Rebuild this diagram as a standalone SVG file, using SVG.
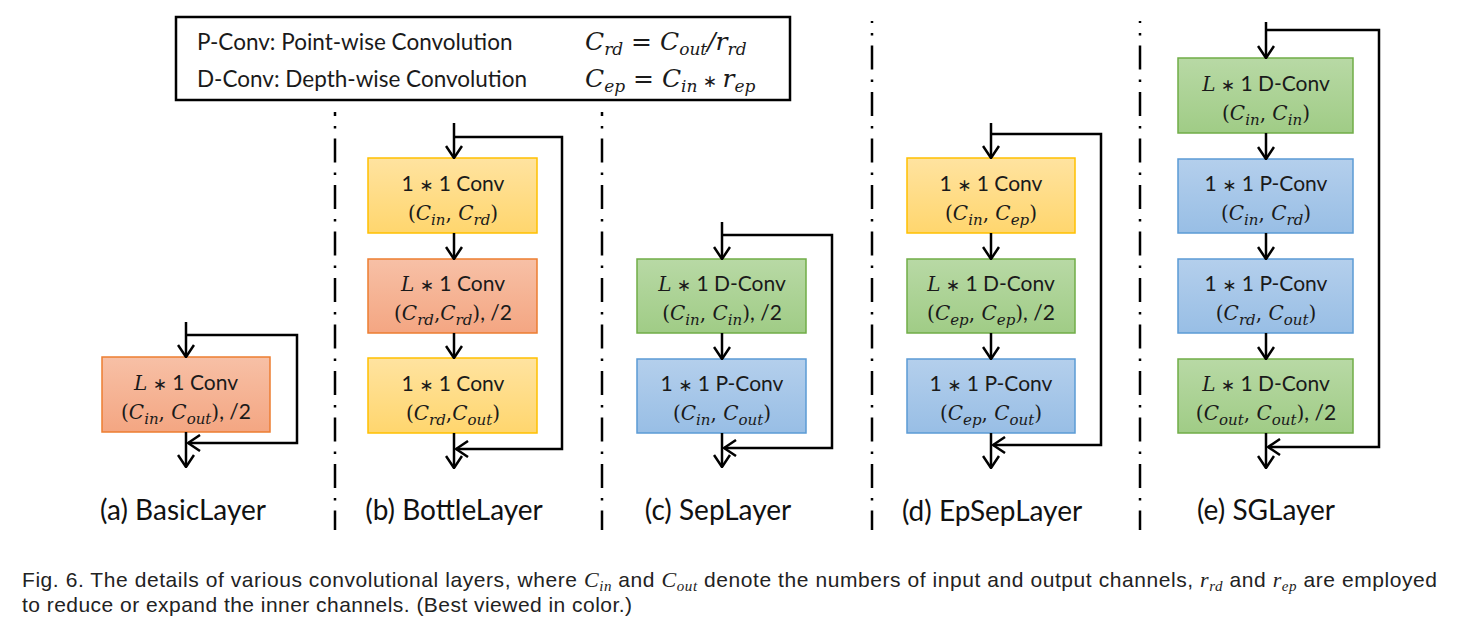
<svg xmlns="http://www.w3.org/2000/svg" width="1464" height="624" viewBox="0 0 1464 624">
<style>
.t{font-family:Lato,"Liberation Sans",sans-serif;font-size:21px;fill:#1a1a1a}
.lg{font-size:22.5px}
.m{font-family:"DejaVu Serif",serif;font-style:italic;font-size:20px}
.u{font-family:"DejaVu Serif",serif;font-size:20px}
.s{font-family:"DejaVu Serif",serif;font-style:italic;font-size:15px}
.ast{font-family:"DejaVu Sans",sans-serif;font-size:17px}
.lm{font-size:25px}
.ls{font-size:17px}
.lab{font-family:Lato,"Liberation Sans",sans-serif;font-size:28px;fill:#111}
.cap{font-family:"Liberation Sans",Arial,sans-serif;font-size:21px;fill:#222}
.cm{font-family:"Liberation Serif",serif;font-style:italic;font-size:22px}
.cs{font-family:"Liberation Serif",serif;font-style:italic;font-size:15px}
.red{fill:url(#gRed);stroke:#ED7D31;stroke-width:1.5}
.yel{fill:url(#gYel);stroke:#FFC000;stroke-width:1.5}
.grn{fill:url(#gGrn);stroke:#70AD47;stroke-width:1.5}
.blu{fill:url(#gBlu);stroke:#5B9BD5;stroke-width:1.5}
.c{fill:none;stroke:#000;stroke-width:2.5;marker-end:url(#ah)}
.sep{stroke:#000;stroke-width:2.5;stroke-dasharray:24 10 2.5 10}
</style>
<defs>
<linearGradient id="gRed" x1="0" y1="0" x2="0" y2="1"><stop offset="0" stop-color="#F7C0A6"/><stop offset="1" stop-color="#F4A682"/></linearGradient>
<linearGradient id="gYel" x1="0" y1="0" x2="0" y2="1"><stop offset="0" stop-color="#FFE3A0"/><stop offset="1" stop-color="#FFD66E"/></linearGradient>
<linearGradient id="gGrn" x1="0" y1="0" x2="0" y2="1"><stop offset="0" stop-color="#B8D9A5"/><stop offset="1" stop-color="#A0CC86"/></linearGradient>
<linearGradient id="gBlu" x1="0" y1="0" x2="0" y2="1"><stop offset="0" stop-color="#B4CFEC"/><stop offset="1" stop-color="#98BEE5"/></linearGradient>
<marker id="ah" viewBox="0 0 14 18" refX="13" refY="9" markerWidth="14" markerHeight="18" markerUnits="userSpaceOnUse" orient="auto">
<path d="M1,1 L13,9 L1,17" fill="none" stroke="#000" stroke-width="2.5"/>
</marker>
</defs>
<rect width="1464" height="624" fill="#fff"/>

<g id="legend">
<rect x="176" y="17" width="614" height="83" fill="#fff" stroke="#000" stroke-width="2.5"/>
<text class="t lg" x="197" y="50">P-Conv: Point-wise Convolution</text>
<text class="t lg" x="197" y="87">D-Conv: Depth-wise Convolution</text>
<text class="t" x="585" y="50"><tspan class="m lm">C</tspan><tspan class="s ls" dy="5">rd</tspan><tspan class="u lm" dy="-5"> = </tspan><tspan class="m lm">C</tspan><tspan class="s ls" dy="5">out</tspan><tspan class="m lm" dy="-5">/r</tspan><tspan class="s ls" dy="5">rd</tspan></text>
<text class="t" x="585" y="87"><tspan class="m lm">C</tspan><tspan class="s ls" dy="5">ep</tspan><tspan class="u lm" dy="-5"> = </tspan><tspan class="m lm">C</tspan><tspan class="s ls" dy="5">in</tspan><tspan class="ast" font-size="21" dy="-5"> ∗ </tspan><tspan class="m lm">r</tspan><tspan class="s ls" dy="5">ep</tspan></text>
</g>

<g id="separators">
<line class="sep" x1="335" y1="112" x2="335" y2="530" stroke-dashoffset="20"/>
<line class="sep" x1="602" y1="112" x2="602" y2="530" stroke-dashoffset="20"/>
<line class="sep" x1="872" y1="21" x2="872" y2="530" stroke-dashoffset="22"/>
<line class="sep" x1="1140" y1="21" x2="1140" y2="530" stroke-dashoffset="22"/>
</g>

<g id="a-basic">
<rect class="red" x="102" y="357" width="168" height="75"/>
<text class="t" x="186" y="390" text-anchor="middle"><tspan class="m">L</tspan><tspan class="ast"> ∗ </tspan>1 Conv</text>
<text class="t" x="186" y="419" text-anchor="middle"><tspan class="u">(</tspan><tspan class="m">C</tspan><tspan class="s" dy="5">in</tspan><tspan class="u" dy="-5">, </tspan><tspan class="m">C</tspan><tspan class="s" dy="5">out</tspan><tspan class="u" dy="-5">)</tspan>, /2</text>
</g>

<g id="b-bottle1">
<rect class="yel" x="368" y="158" width="169" height="75"/>
<text class="t" x="453" y="191" text-anchor="middle">1<tspan class="ast"> ∗ </tspan>1 Conv</text>
<text class="t" x="453" y="220" text-anchor="middle"><tspan class="u">(</tspan><tspan class="m">C</tspan><tspan class="s" dy="5">in</tspan><tspan class="u" dy="-5">, </tspan><tspan class="m">C</tspan><tspan class="s" dy="5">rd</tspan><tspan class="u" dy="-5">)</tspan></text>
</g>
<g id="b-bottle2">
<rect class="red" x="368" y="259" width="169" height="74"/>
<text class="t" x="453" y="291" text-anchor="middle"><tspan class="m">L</tspan><tspan class="ast"> ∗ </tspan>1 Conv</text>
<text class="t" x="453" y="320" text-anchor="middle"><tspan class="u">(</tspan><tspan class="m">C</tspan><tspan class="s" dy="5">rd</tspan><tspan class="u" dy="-5">,</tspan><tspan class="m">C</tspan><tspan class="s" dy="5">rd</tspan><tspan class="u" dy="-5">)</tspan>, /2</text>
</g>
<g id="b-bottle3">
<rect class="yel" x="368" y="358" width="169" height="75"/>
<text class="t" x="453" y="391" text-anchor="middle">1<tspan class="ast"> ∗ </tspan>1 Conv</text>
<text class="t" x="453" y="420" text-anchor="middle"><tspan class="u">(</tspan><tspan class="m">C</tspan><tspan class="s" dy="5">rd</tspan><tspan class="u" dy="-5">,</tspan><tspan class="m">C</tspan><tspan class="s" dy="5">out</tspan><tspan class="u" dy="-5">)</tspan></text>
</g>

<g id="c-sep1">
<rect class="grn" x="637" y="259" width="169" height="74"/>
<text class="t" x="722" y="291" text-anchor="middle"><tspan class="m">L</tspan><tspan class="ast"> ∗ </tspan>1 D-Conv</text>
<text class="t" x="722" y="320" text-anchor="middle"><tspan class="u">(</tspan><tspan class="m">C</tspan><tspan class="s" dy="5">in</tspan><tspan class="u" dy="-5">, </tspan><tspan class="m">C</tspan><tspan class="s" dy="5">in</tspan><tspan class="u" dy="-5">)</tspan>, /2</text>
</g>
<g id="c-sep2">
<rect class="blu" x="637" y="359" width="169" height="74"/>
<text class="t" x="722" y="391" text-anchor="middle">1<tspan class="ast"> ∗ </tspan>1 P-Conv</text>
<text class="t" x="722" y="420" text-anchor="middle"><tspan class="u">(</tspan><tspan class="m">C</tspan><tspan class="s" dy="5">in</tspan><tspan class="u" dy="-5">, </tspan><tspan class="m">C</tspan><tspan class="s" dy="5">out</tspan><tspan class="u" dy="-5">)</tspan></text>
</g>

<g id="d-epsep1">
<rect class="yel" x="907" y="158" width="168" height="75"/>
<text class="t" x="991" y="191" text-anchor="middle">1<tspan class="ast"> ∗ </tspan>1 Conv</text>
<text class="t" x="991" y="220" text-anchor="middle"><tspan class="u">(</tspan><tspan class="m">C</tspan><tspan class="s" dy="5">in</tspan><tspan class="u" dy="-5">, </tspan><tspan class="m">C</tspan><tspan class="s" dy="5">ep</tspan><tspan class="u" dy="-5">)</tspan></text>
</g>
<g id="d-epsep2">
<rect class="grn" x="907" y="259" width="168" height="74"/>
<text class="t" x="991" y="291" text-anchor="middle"><tspan class="m">L</tspan><tspan class="ast"> ∗ </tspan>1 D-Conv</text>
<text class="t" x="991" y="320" text-anchor="middle"><tspan class="u">(</tspan><tspan class="m">C</tspan><tspan class="s" dy="5">ep</tspan><tspan class="u" dy="-5">, </tspan><tspan class="m">C</tspan><tspan class="s" dy="5">ep</tspan><tspan class="u" dy="-5">)</tspan>, /2</text>
</g>
<g id="d-epsep3">
<rect class="blu" x="907" y="359" width="168" height="74"/>
<text class="t" x="991" y="391" text-anchor="middle">1<tspan class="ast"> ∗ </tspan>1 P-Conv</text>
<text class="t" x="991" y="420" text-anchor="middle"><tspan class="u">(</tspan><tspan class="m">C</tspan><tspan class="s" dy="5">ep</tspan><tspan class="u" dy="-5">, </tspan><tspan class="m">C</tspan><tspan class="s" dy="5">out</tspan><tspan class="u" dy="-5">)</tspan></text>
</g>

<g id="e-sg1">
<rect class="grn" x="1178" y="58" width="175" height="75"/>
<text class="t" x="1266" y="91" text-anchor="middle"><tspan class="m">L</tspan><tspan class="ast"> ∗ </tspan>1 D-Conv</text>
<text class="t" x="1266" y="120" text-anchor="middle"><tspan class="u">(</tspan><tspan class="m">C</tspan><tspan class="s" dy="5">in</tspan><tspan class="u" dy="-5">, </tspan><tspan class="m">C</tspan><tspan class="s" dy="5">in</tspan><tspan class="u" dy="-5">)</tspan></text>
</g>
<g id="e-sg2">
<rect class="blu" x="1178" y="159" width="175" height="74"/>
<text class="t" x="1266" y="191" text-anchor="middle">1<tspan class="ast"> ∗ </tspan>1 P-Conv</text>
<text class="t" x="1266" y="220" text-anchor="middle"><tspan class="u">(</tspan><tspan class="m">C</tspan><tspan class="s" dy="5">in</tspan><tspan class="u" dy="-5">, </tspan><tspan class="m">C</tspan><tspan class="s" dy="5">rd</tspan><tspan class="u" dy="-5">)</tspan></text>
</g>
<g id="e-sg3">
<rect class="blu" x="1178" y="259" width="175" height="74"/>
<text class="t" x="1266" y="291" text-anchor="middle">1<tspan class="ast"> ∗ </tspan>1 P-Conv</text>
<text class="t" x="1266" y="320" text-anchor="middle"><tspan class="u">(</tspan><tspan class="m">C</tspan><tspan class="s" dy="5">rd</tspan><tspan class="u" dy="-5">, </tspan><tspan class="m">C</tspan><tspan class="s" dy="5">out</tspan><tspan class="u" dy="-5">)</tspan></text>
</g>
<g id="e-sg4">
<rect class="grn" x="1178" y="359" width="175" height="74"/>
<text class="t" x="1266" y="391" text-anchor="middle"><tspan class="m">L</tspan><tspan class="ast"> ∗ </tspan>1 D-Conv</text>
<text class="t" x="1266" y="420" text-anchor="middle"><tspan class="u">(</tspan><tspan class="m">C</tspan><tspan class="s" dy="5">out</tspan><tspan class="u" dy="-5">, </tspan><tspan class="m">C</tspan><tspan class="s" dy="5">out</tspan><tspan class="u" dy="-5">)</tspan>, /2</text>
</g>

<g id="connectors">
<path class="c" d="M186,322 V357"/>
<path class="c" d="M186,335 H297 V443 H188"/>
<path class="c" d="M186,432 V467"/>

<path class="c" d="M454,123 V158"/>
<path class="c" d="M454,137 H562 V449 H456"/>
<path class="c" d="M454,233 V259"/>
<path class="c" d="M454,333 V358"/>
<path class="c" d="M454,433 V468"/>

<path class="c" d="M722,222 V259"/>
<path class="c" d="M722,235 H832 V448 H724"/>
<path class="c" d="M722,333 V359"/>
<path class="c" d="M722,433 V467"/>

<path class="c" d="M991,123 V158"/>
<path class="c" d="M991,134 H1101 V445 H993"/>
<path class="c" d="M991,233 V259"/>
<path class="c" d="M991,333 V359"/>
<path class="c" d="M991,433 V468"/>

<path class="c" d="M1266,22 V58"/>
<path class="c" d="M1266,30 H1379 V447 H1268"/>
<path class="c" d="M1266,133 V159"/>
<path class="c" d="M1266,233 V259"/>
<path class="c" d="M1266,333 V359"/>
<path class="c" d="M1266,433 V468"/>
</g>

<g id="labels">
<text class="lab" x="183" y="520" text-anchor="middle">(a) BasicLayer</text>
<text class="lab" x="454" y="520" text-anchor="middle">(b) BottleLayer</text>
<text class="lab" x="718" y="520" text-anchor="middle">(c) SepLayer</text>
<text class="lab" x="992" y="521" text-anchor="middle">(d) EpSepLayer</text>
<text class="lab" x="1266" y="520" text-anchor="middle">(e) SGLayer</text>
</g>

<g id="caption">
<text class="cap" x="22" y="587" textLength="1415" lengthAdjust="spacing">Fig. 6. The details of various convolutional layers, where <tspan class="cm">C</tspan><tspan class="cs" dy="4">in</tspan><tspan dy="-4"> and </tspan><tspan class="cm">C</tspan><tspan class="cs" dy="4">out</tspan><tspan dy="-4"> denote the numbers of input and output channels, </tspan><tspan class="cm">r</tspan><tspan class="cs" dy="4">rd</tspan><tspan dy="-4"> and </tspan><tspan class="cm">r</tspan><tspan class="cs" dy="4">ep</tspan><tspan dy="-4"> are employed</tspan></text>
<text class="cap" x="22" y="612" textLength="610" lengthAdjust="spacing">to reduce or expand the inner channels. (Best viewed in color.)</text>
</g>
</svg>
